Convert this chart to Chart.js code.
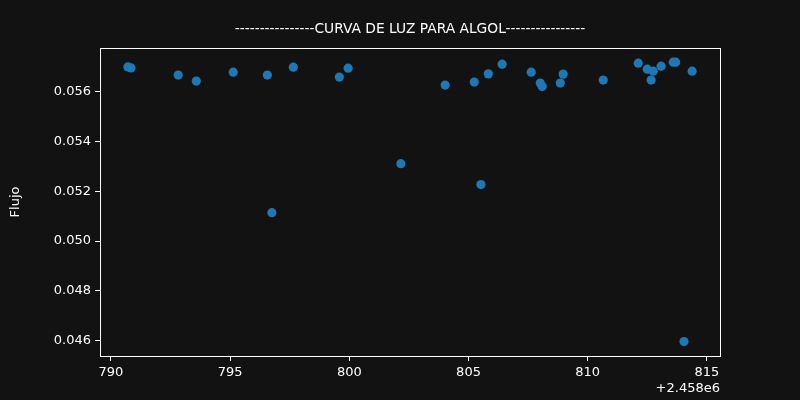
<!DOCTYPE html>
<html>
<head>
<meta charset="utf-8">
<script src="https://cdn.jsdelivr.net/npm/chart.js@4/dist/chart.umd.min.js"></script>
<style>
  html, body { margin: 0; padding: 0; background: #121212; }
  #wrap { width: 800px; height: 400px; }
</style>
</head>
<body>
<div id="wrap"><canvas id="lightCurve" width="800" height="400"></canvas></div>
<script>
// Días julianos (desplazados de 2458000) y flujo
const jdOffset = 2458000;
const days = [790.71, 790.84, 792.82, 793.58, 795.13, 796.56, 796.75, 797.65, 799.58, 799.95,
              802.16, 804.02, 805.24, 805.52, 805.83, 806.41, 807.63, 808.01, 808.09, 808.85,
              808.97, 810.65, 812.12, 812.50, 812.66, 812.75, 813.08, 813.59, 813.69, 814.04, 814.38];
const flux = [0.05700, 0.05696, 0.05667, 0.05643, 0.05679, 0.05667, 0.05114, 0.05699, 0.05659, 0.05695,
              0.05311, 0.05627, 0.05639, 0.05227, 0.05672, 0.05711, 0.05679, 0.05635, 0.05621, 0.05635,
              0.05671, 0.05647, 0.05715, 0.05691, 0.05647, 0.05683, 0.05703, 0.05719, 0.05719, 0.04596, 0.05683];
const xTicks = [790, 795, 800, 805, 810, 815];
const yTicks = [0.046, 0.048, 0.050, 0.052, 0.054, 0.056];

const titleText = '----------------CURVA DE LUZ PARA ALGOL----------------';
const fontFamily = '"DejaVu Sans", sans-serif';

// Título, marco completo y texto de desplazamiento del eje x
const extraText = {
    id: 'extraText',
    afterDraw(chart) {
        const ctx = chart.ctx;
        const area = chart.chartArea;
        ctx.save();
        ctx.strokeStyle = '#ffffff';
        ctx.lineWidth = 1;
        ctx.strokeRect(Math.round(area.left) + 0.5, Math.round(area.top) + 0.5,
                       Math.round(area.right - area.left), Math.round(area.bottom - area.top));
        ctx.fillStyle = '#ffffff';
        ctx.font = '13.8px ' + fontFamily;
        ctx.textAlign = 'center';
        ctx.textBaseline = 'middle';
        ctx.fillText(titleText, (area.left + area.right) / 2, 29);
        ctx.font = '13px ' + fontFamily;
        ctx.textAlign = 'right';
        ctx.fillText('+' + (jdOffset / 1e6).toFixed(3) + 'e6', area.right, 389);
        ctx.restore();
    }
};

const bgPlugin = {
    id: 'bg',
    beforeDraw(chart) {
        const ctx = chart.ctx;
        ctx.save();
        ctx.fillStyle = '#121212';
        ctx.fillRect(0, 0, chart.width, chart.height);
        ctx.restore();
    }
};

new Chart(document.getElementById('lightCurve').getContext('2d'), {
    type: 'scatter',
    data: {
        datasets: [{
            label: 'Flujo',
            data: days.map((d, i) => ({ x: d, y: flux[i] })),
            backgroundColor: '#1f77b4',
            borderColor: '#1f77b4',
            pointRadius: 4.6,
            pointHoverRadius: 4.6,
            borderWidth: 0
        }]
    },
    options: {
        responsive: false,
        animation: false,
        devicePixelRatio: 1,
        layout: { padding: { left: 0, top: 48, right: 80, bottom: 0 } },
        plugins: {
            legend: { display: false },
            tooltip: { enabled: false },
            title: { display: false }
        },
        scales: {
            x: {
                type: 'linear',
                min: 789.54,
                max: 815.55,
                afterBuildTicks: scale => { scale.ticks = xTicks.map(v => ({ value: v })); },
                afterFit: scale => { scale.height = 44; },
                border: { color: '#ffffff', width: 1 },
                grid: { drawOnChartArea: false, color: '#ffffff', tickLength: 5, tickWidth: 1 },
                ticks: {
                    color: '#ffffff',
                    padding: 4,
                    maxRotation: 0,
                    font: { family: fontFamily, size: 13 },
                    callback: v => String(v)
                }
            },
            y: {
                min: 0.04538,
                max: 0.05776,
                afterBuildTicks: scale => { scale.ticks = yTicks.map(v => ({ value: v })); },
                afterFit: scale => { scale.width = 100; },
                border: { color: '#ffffff', width: 1 },
                grid: { drawOnChartArea: false, color: '#ffffff', tickLength: 5, tickWidth: 1 },
                title: {
                    display: true,
                    text: 'Flujo',
                    color: '#ffffff',
                    font: { family: fontFamily, size: 13 },
                    padding: { top: 8, bottom: 0 }
                },
                ticks: {
                    color: '#ffffff',
                    padding: 4,
                    font: { family: fontFamily, size: 13 },
                    callback: v => v.toFixed(3)
                }
            }
        }
    },
    plugins: [bgPlugin, extraText]
});
</script>
</body>
</html>
